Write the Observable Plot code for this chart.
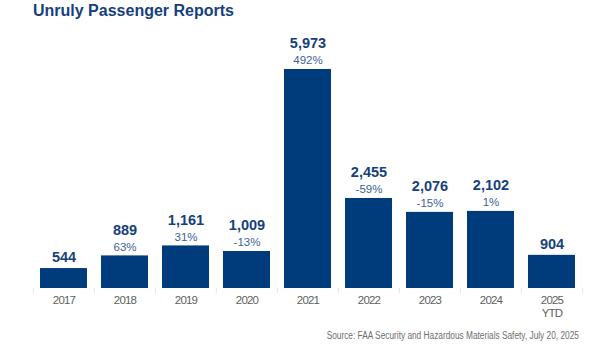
<!DOCTYPE html>
<html>
<head>
<meta charset="utf-8">
<script src="https://cdn.jsdelivr.net/npm/d3@7"></script>
<script src="https://cdn.jsdelivr.net/npm/@observablehq/plot@0.6"></script>
<style>
  html, body { margin: 0; padding: 0; background: #fff; }
  body { width: 600px; height: 351px; overflow: hidden; font-family: "Liberation Sans", Arial, sans-serif; }
  #title { height: 22px; line-height: 21px; padding-left: 33px; font-size: 16px; font-weight: bold; color: #163f7c; }
  #caption { position: absolute; top: 330px; right: 21px; font-size: 10px; color: #6e6e6e; white-space: nowrap; transform: scaleX(0.83); transform-origin: right center; }
  svg { display: block; }
</style>
</head>
<body>
<div id="title">Unruly Passenger Reports</div>
<div id="chart"></div>
<div id="caption">Source: FAA Security and Hazardous Materials Safety, July 20, 2025</div>
<script>
const years = ["2017", "2018", "2019", "2020", "2021", "2022", "2023", "2024", "2025"];
const tickLabels = ["2017", "2018", "2019", "2020", "2021", "2022", "2023", "2024", "2025\nYTD"];
const reports = [544, 889, 1161, 1009, 5973, 2455, 2076, 2102, 904];
const changes = ["", "63%", "31%", "-13%", "492%", "-59%", "-15%", "1%", ""];

const data = years.map((y, i) => ({year: y, value: reports[i], pct: changes[i], label: tickLabels[i]}));

const W = 600, H = 300, ML = 31, MR = 17, MT = 46, MB = 34;
const step = (W - ML - MR) / years.length;
const barColor = "#003b7b";
const fmt = d3.format(",");

const chart = Plot.plot({
  width: W,
  height: H,
  marginLeft: ML,
  marginRight: MR,
  marginTop: MT,
  marginBottom: MB,
  style: {fontFamily: "'Liberation Sans', Arial, sans-serif", background: "#fff"},
  x: {domain: years, paddingInner: 0.23, paddingOuter: 0.115, label: null},
  y: {domain: [0, 6000], axis: null},
  marks: [
    Plot.barY(data, {x: "year", y: "value", fill: barColor}),
    Plot.ruleX(data, {x: "year", y1: 0, y2: 0, dx: -step / 2, insetBottom: -5, stroke: "#e2e2e2", strokeWidth: 1}),
    Plot.ruleX(data.slice(-1), {x: "year", y1: 0, y2: 0, dx: step / 2, insetBottom: -5, stroke: "#e2e2e2", strokeWidth: 1}),
    Plot.text(data.filter(d => d.pct), {x: "year", y: "value", text: d => fmt(d.value), dy: -26, fontSize: 14.5, fontWeight: "bold", fill: "#163f7c", lineAnchor: "middle"}),
    Plot.text(data.filter(d => !d.pct), {x: "year", y: "value", text: d => fmt(d.value), dy: -11, fontSize: 14.5, fontWeight: "bold", fill: "#163f7c", lineAnchor: "middle"}),
    Plot.text(data.filter(d => d.pct), {x: "year", y: "value", text: "pct", dy: -9, fontSize: 11.5, fill: "#3a629a", lineAnchor: "middle", style: {letterSpacing: "-0.6px"}}),
    Plot.axisX({tickSize: 0, tickPadding: 6, fontSize: 11.5, lineHeight: 1.15, color: "#606060", tickFormat: d => tickLabels[years.indexOf(d)], label: null})
  ]
});
chart.querySelectorAll('g[aria-label="x-axis tick label"] text').forEach(t => t.style.letterSpacing = "-0.8px");
document.getElementById("chart").appendChild(chart);
</script>
</body>
</html>
